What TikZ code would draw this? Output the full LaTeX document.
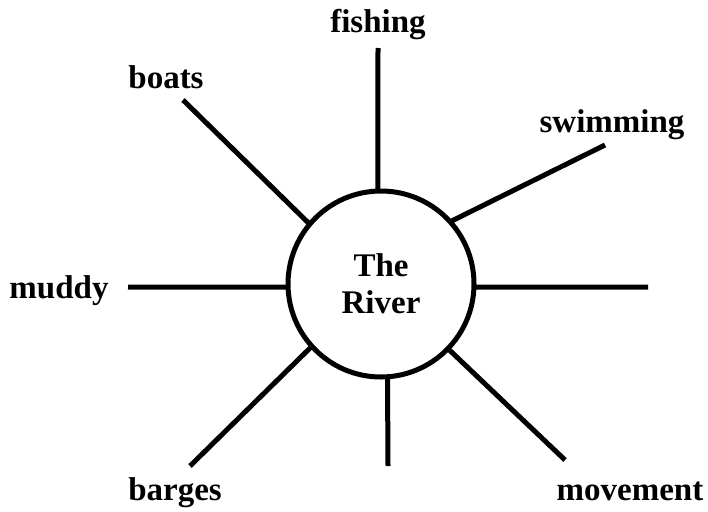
\documentclass[tikz,border=0pt]{standalone}
\usepackage{fontspec}
\setmainfont{Liberation Serif}
\usepackage{tikz}
\usetikzlibrary{positioning}

\begin{document}
\begin{tikzpicture}[x=1pt,y=-1pt,
  hub/.style={draw,circle,line width=5pt,inner sep=0pt,outer sep=0pt,
    minimum size=186pt,align=center,font=\bfseries\fontsize{33}{37}\selectfont},
  word/.style={anchor=base,font=\bfseries\fontsize{33}{37}\selectfont},
  spoke/.style={line width=5pt}]
\useasboundingbox (0,0) rectangle (708,511);
\node[hub] (river) at (381,284) {The\\River};
% outer ends of the spokes
\coordinate (fishend) at (378,48);
\coordinate (boatend) at (183,100);
\coordinate (swimend) at (605,145);
\coordinate (mudend) at (128,287);
\coordinate (rightend) at (648,287);
\coordinate (bargeend) at (190,466);
\coordinate (downend) at (388,466);
\coordinate (moveend) at (565,460);
\node[word] (fishing) at (378,33) {fishing};
\node[word] (boats) at (166,88) {boats};
\node[word] (swimming) at (612,132) {swimming};
\node[word] (muddy) at (59,298) {muddy};
\node[word] (barges) at (175,500) {barges};
\node[word] (movement) at (630,500) {movement};
\draw[spoke] (river.92) -- (fishend);
\draw[spoke] (river.140) -- (boatend);
\draw[spoke] (river.42) -- (swimend);
\draw[spoke] (river.182) -- (mudend);
\draw[spoke] (river.358) -- (rightend);
\draw[spoke] (river.222) -- (bargeend);
\draw[spoke] (river.274) -- (downend);
\draw[spoke] (river.316) -- (moveend);
\end{tikzpicture}
\end{document}
